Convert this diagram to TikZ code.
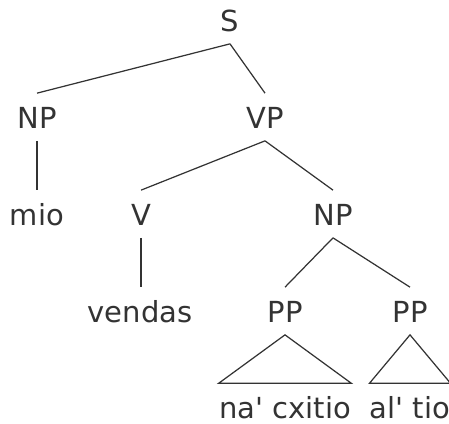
\documentclass[tikz,border=0pt]{standalone}
\usepackage{fontspec}
\setmainfont{DejaVu Sans}[Ligatures=TeXOff]
\usepackage{tikz}

\begin{document}
\begin{tikzpicture}[x=0.02cm, y=-0.02cm,
    cat/.style={anchor=base, inner xsep=0pt, inner ysep=0.25cm,
        text height=0.44cm, text depth=0pt, text=black!80,
        font=\fontsize{16.5}{20}\selectfont},
    branch/.style={draw=black!80, line width=0.7pt}]
        \useasboundingbox (0,0) rectangle (449,423);
        \node[cat] (s) at (230,31) {S};
        \node[cat] (np) at (37,128) {NP};
        \node[cat] (vp) at (265,128) {VP};
        \node[cat] (mio) at (37,225) {mio};
        \node[cat] (v) at (141,225) {V};
        \node[cat] (np2) at (333,225) {NP};
        \node[cat] (vendas) at (140,322) {vendas};
        \node[cat] (pp1) at (285,322) {PP};
        \node[cat] (pp2) at (410,322) {PP};
        \node[cat] (cxitio) at (285,418) {na' cxitio};
        \node[cat] (tio) at (410,418) {al' tio};

        \draw[branch] (s.south) -- (np.north) (s.south) -- (vp.north);
        \draw[branch] (np.south) -- (mio.north);
        \draw[branch] (vp.south) -- (v.north) (vp.south) -- (np2.north);
        \draw[branch] (v.south) -- (v.south |- vendas.north);
        \draw[branch] (np2.south) -- (pp1.north) (np2.south) -- (pp2.north);
        \draw[branch] (pp1.south) -- (cxitio.north west) -- (cxitio.north east) -- cycle;
        \draw[branch] (pp2.south) -- (tio.north west) -- (tio.north east) -- cycle;
\end{tikzpicture}
\end{document}
